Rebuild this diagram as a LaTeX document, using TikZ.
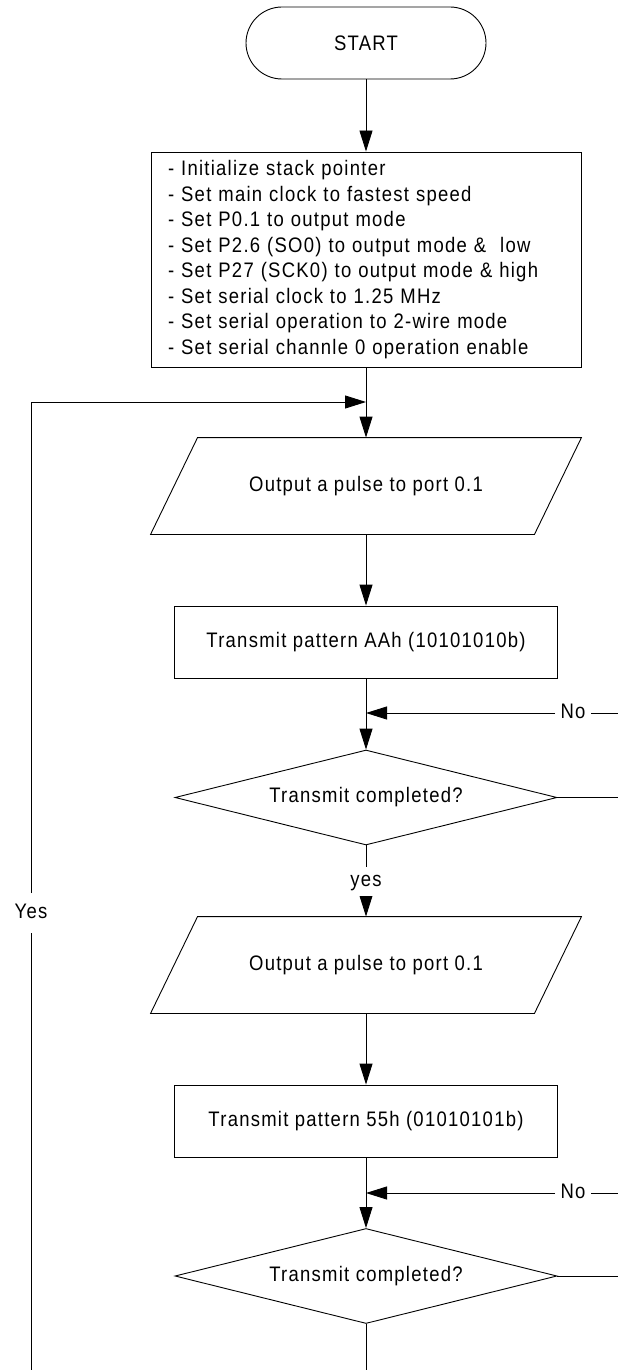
\documentclass[tikz,border=0pt]{standalone}
\usepackage{fontspec}
\setmainfont{Liberation Sans}[FakeStretch=0.88,LetterSpace=6]
\usetikzlibrary{arrows.meta,shapes.geometric}
\begin{document}
\begin{tikzpicture}[x=1pt,y=-1pt,line width=0.9pt,
  every node/.style={font=\fontsize{21}{25.5}\selectfont},
  arr/.style={-{Triangle[length=21pt,width=13pt]}},
  box/.style={draw,rectangle,inner sep=0pt},
  para/.style={inner sep=0pt,minimum width=430pt,minimum height=96pt},
  dia/.style={draw,diamond,aspect=4,inner sep=0pt,minimum width=382pt,minimum height=95pt},
  lbl/.style={fill=white,inner xsep=5pt,inner ysep=5pt,text height=15pt,text depth=4pt}]
\useasboundingbox (0,0) rectangle (618,1370);

% start
\node[box,rounded corners=36pt,minimum width=240pt,minimum height=72pt] (start) at (366,43) {START};

% init box
\node[box,minimum width=430pt,minimum height=215pt,text width=396pt,align=left] (init) at (366,259.5)
{- Initialize stack pointer\\
- Set main clock to fastest speed\\
- Set P0.1 to output mode\\
- Set P2.6 (SO0) to output mode \&\ \ low\\
- Set P27 (SCK0) to output mode \& high\\
- Set serial clock to 1.25 MHz\\
- Set serial operation to 2-wire mode\\
- Set serial channle 0 operation enable};

% first loop body
\node[para] (p1) at (366,486) {Output a pulse to port 0.1};
\draw ([xshift=47pt]p1.north west) -- (p1.north east) -- ([xshift=-47pt]p1.south east) -- (p1.south west) -- cycle;
\node[box,minimum width=383pt,minimum height=72pt] (r1) at (366,642) {Transmit pattern AAh (10101010b)};
\node[dia] (d1) at (366,797.5) {Transmit completed?};

\node[para] (p2) at (366,965) {Output a pulse to port 0.1};
\draw ([xshift=47pt]p2.north west) -- (p2.north east) -- ([xshift=-47pt]p2.south east) -- (p2.south west) -- cycle;
\node[box,minimum width=383pt,minimum height=72pt] (r2) at (366,1121) {Transmit pattern 55h (01010101b)};
\node[dia] (d2) at (366,1276) {Transmit completed?};

% coordinates
\coordinate (m1) at (366,402);
\coordinate (j1) at (366,713);
\coordinate (j2) at (366,1193);
\coordinate (e1) at (618,713);
\coordinate (e2) at (618,797.5);
\coordinate (e3) at (618,1193);
\coordinate (e4) at (618,1276);
\coordinate (b1) at (366,1370);
\coordinate (y0) at (31,1370);
\coordinate (y1) at (31,402);

% labels
\node[lbl] (no1) at (573,713) {No};
\node[lbl] (no2) at (573,1193) {No};
\node[lbl,inner ysep=10pt] (yes) at (31,913) {Yes};

% connectors
\draw[arr] (start) -- (init);
\draw[arr] (init) -- (p1.north);
\draw[arr] (p1.south) -- (r1);
\draw[arr] (r1) -- (d1);
\draw[arr] (d1) -- node[lbl] (yes1) {yes} (p2.north);
\draw[arr] (p2.south) -- (r2);
\draw[arr] (r2) -- (d2);
\draw (d2) -- (b1);

\draw (e1) -- (no1);
\draw[arr] (no1) -- (j1);
\draw (d1.east) -- (e2);
\draw (e3) -- (no2);
\draw[arr] (no2) -- (j2);
\draw (d2.east) -- (e4);

\draw (y0) -- (yes);
\draw[arr] (yes) -- (y1) -- (m1);
\end{tikzpicture}
\end{document}
